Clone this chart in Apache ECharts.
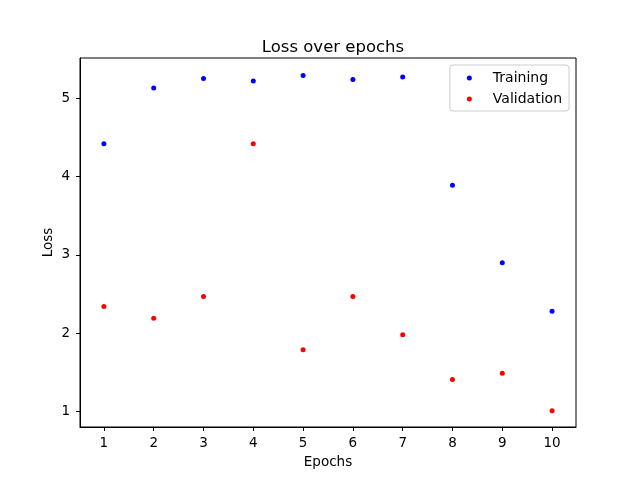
<!DOCTYPE html>
<html><head><meta charset="utf-8">
<script src="https://cdn.jsdelivr.net/npm/echarts@6/dist/echarts.min.js"></script>
<style>html,body{margin:0;padding:0;background:#fff}#c{width:640px;height:480px}</style>
</head><body><div id="c"></div>
<script>
const epochs = [1,2,3,4,5,6,7,8,9,10];
const training = [4.42,5.13,5.25,5.22,5.29,5.24,5.27,3.89,2.90,2.28];
const validation = [2.34,2.19,2.47,4.42,1.79,2.47,1.98,1.41,1.49,1.01];
const xTicks = [1,2,3,4,5,6,7,8,9,10];
const yTicks = [1,2,3,4,5];

const chart = echarts.init(document.getElementById('c'), null, {renderer:'canvas'});
const font = 'DejaVu Sans';
chart.setOption({
  animation:false,
  backgroundColor:'#fff',
  title:{text:'Loss over epochs', left:328, textAlign:'center', top:34,
    textStyle:{fontFamily:font, fontSize:16.5, fontWeight:'normal', color:'#000'}},
  grid:{left:80, right:64, top:58, bottom:53, show:true, borderColor:'#000', borderWidth:1, backgroundColor:'transparent'},
  legend:{right:71, top:65, orient:'vertical', icon:'circle', itemWidth:5, itemHeight:5, itemGap:7,
    padding:[6,7,5,17], backgroundColor:'#fff', borderColor:'#ccc', borderWidth:1, borderRadius:3,
    data:['Training','Validation'],
    textStyle:{fontFamily:font, fontSize:14, color:'#000', padding:[0,0,0,16]}},
  xAxis:{type:'value', min:0.52, max:10.48, name:'Epochs', nameLocation:'middle', nameGap:28, nameMoveOverlap:false,
    nameTextStyle:{fontFamily:font, fontSize:13.5, color:'#000'},
    axisLine:{show:true, lineStyle:{color:'#000', width:1}},
    axisTick:{show:true, length:4, customValues:xTicks, lineStyle:{color:'#000'}},
    axisLabel:{customValues:xTicks, margin:9, fontFamily:font, fontSize:13.5, color:'#000'},
    splitLine:{show:false}},
  yAxis:{type:'value', min:0.803, max:5.513, name:'Loss', nameLocation:'middle', nameGap:25, nameMoveOverlap:false,
    nameTextStyle:{fontFamily:font, fontSize:13.5, color:'#000'},
    axisLine:{show:true, lineStyle:{color:'#000', width:1}},
    axisTick:{show:true, length:4, customValues:yTicks, lineStyle:{color:'#000'}},
    axisLabel:{customValues:yTicks, margin:10, fontFamily:font, fontSize:13.5, color:'#000'},
    splitLine:{show:false}},
  series:[
    {name:'Training', type:'scatter', symbol:'circle', symbolSize:5, itemStyle:{color:'#0000ff', opacity:1},
      data:epochs.map((e,i)=>[e,training[i]])},
    {name:'Validation', type:'scatter', symbol:'circle', symbolSize:5, itemStyle:{color:'#ff0000', opacity:1},
      data:epochs.map((e,i)=>[e,validation[i]])}
  ]
});
</script></body></html>
